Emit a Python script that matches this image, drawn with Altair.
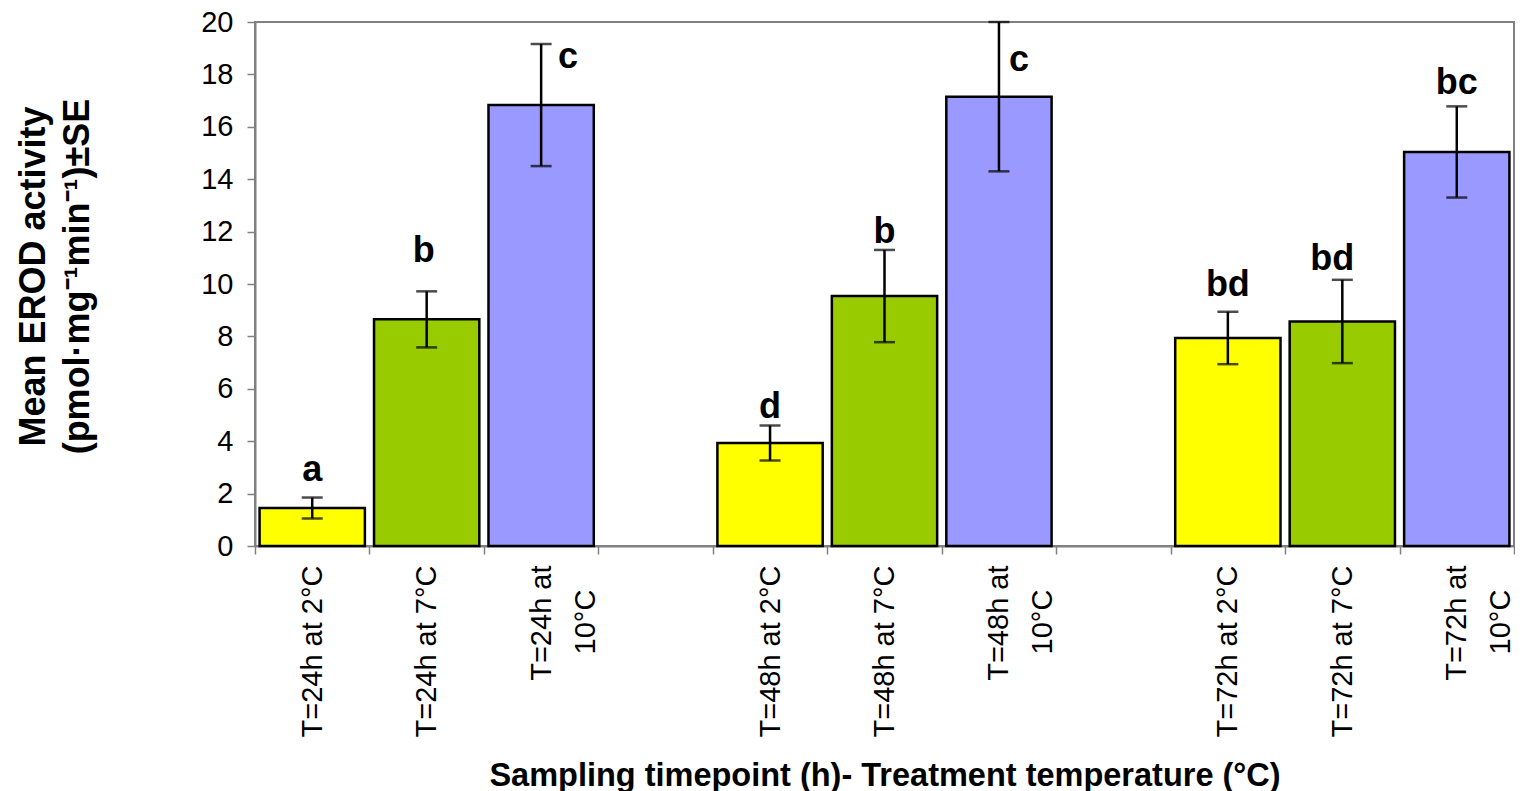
import altair as alt
import pandas as pd

# ---- data ----
categories = [
    "T=24h at 2°C", "T=24h at 7°C", "T=24h at|10°C", " ",
    "T=48h at 2°C", "T=48h at 7°C", "T=48h at|10°C", "  ",
    "T=72h at 2°C", "T=72h at 7°C", "T=72h at|10°C",
]
bar_labels = [
    "T=24h at 2°C", "T=24h at 7°C", "T=24h at|10°C",
    "T=48h at 2°C", "T=48h at 7°C", "T=48h at|10°C",
    "T=72h at 2°C", "T=72h at 7°C", "T=72h at|10°C",
]
temperatures = ["2°C", "7°C", "10°C"] * 3
means = [1.45, 8.65, 16.83, 3.93, 9.54, 17.15, 7.94, 8.57, 15.04]
se = [0.40, 1.07, 2.33, 0.67, 1.76, 2.85, 1.00, 1.59, 1.74]
letters = ["a", "b", "c", "d", "b", "c", "bd", "bd", "bc"]
# letter baselines (data units) and horizontal nudges
letter_y = [2.50, 10.83, 18.24, 4.89, 11.56, 18.12, 9.55, 10.52, 17.26]
letter_shift = [0, -3, 27, 0, 0, 20, 0, -10, 0]

temp_domain = ["2°C", "7°C", "10°C"]
temp_colors = ["#FFFF00", "#99CC00", "#9999FF"]

df = pd.DataFrame({
    "cat": bar_labels,
    "temp": temperatures,
    "avg": means,
    "se": se,
    "letter": letters,
    "ly": letter_y,
    "nudge": letter_shift,
})
df["lo"] = df["avg"] - df["se"]
df["hi"] = df["avg"] + df["se"]

FONT = "Arial"

# second label line centred under the first (Excel style): pad with no-break spaces,
# closed by a zero-width space so that the padding is not trimmed
label_expr = (
    "isValid(datum.value) ? "
    "split(replace(datum.value, '10°C', '10°C\u00a0\u00a0\u00a0\u200b'), '|') : ''"
)

x_enc = alt.X(
    "cat:N",
    sort=categories,
    scale=alt.Scale(domain=categories, paddingInner=0, paddingOuter=0),
    axis=alt.Axis(
        title="Sampling timepoint (h)- Treatment temperature (°C)",
        titleFont=FONT, titleFontSize=32.5, titleFontWeight="bold", titleColor="black",
        titleBaseline="alphabetic", titleY=239,
        labelExpr=label_expr,
        labelAngle=270, labelAlign="right", labelBaseline="middle",
        labelFont=FONT, labelFontSize=29, labelColor="black", labelLineHeight=44,
        labelPadding=11, labelOverlap=False, labelLimit=400,
        tickBand="extent", tickSize=8, tickColor="#808080", tickWidth=1.5,
        domainColor="#808080", domainWidth=2, grid=False,
    ),
)

y_scale = alt.Scale(domain=[0, 20], nice=False, zero=True)
y_axis = alt.Axis(
    title=["Mean EROD activity", "(pmol·mg⁻¹min⁻¹)±SE"],
    titleFont=FONT, titleFontSize=36, titleFontWeight="bold", titleColor="black",
    titleAngle=270, titleAlign="center", titleBaseline="alphabetic",
    titleLineHeight=44, titleX=-211, titleY=254,
    values=list(range(0, 21, 2)),
    labelFont=FONT, labelFontSize=29, labelColor="black", labelPadding=14,
    tickSize=8, tickColor="#808080", tickWidth=1.5,
    domainColor="#808080", domainWidth=2, grid=False,
)

base = alt.Chart(df)

bars = base.mark_bar(
    width=alt.RelativeBandSize(0.92), stroke="black", strokeWidth=2.5
).encode(
    x=x_enc,
    y=alt.Y("avg:Q", scale=y_scale, axis=y_axis),
    color=alt.Color("temp:N", scale=alt.Scale(domain=temp_domain, range=temp_colors), legend=None),
)

err = base.mark_rule(color="black", strokeWidth=2.5).encode(
    x=alt.X("cat:N", sort=categories),
    y=alt.Y("lo:Q"),
    y2="hi:Q",
)
cap_lo = base.mark_tick(color="black", size=21, thickness=2.5).encode(
    x=alt.X("cat:N", sort=categories), y=alt.Y("lo:Q")
)
cap_hi = base.mark_tick(color="black", size=21, thickness=2.5).encode(
    x=alt.X("cat:N", sort=categories), y=alt.Y("hi:Q")
)

letter_layers = []
for s in sorted(set(letter_shift)):
    letter_layers.append(
        base.transform_filter(alt.datum.nudge == s)
        .mark_text(font=FONT, fontSize=36, fontWeight="bold", color="black",
                   align="center", baseline="alphabetic", dx=s)
        .encode(x=alt.X("cat:N", sort=categories), y=alt.Y("ly:Q"), text="letter:N")
    )

chart = alt.layer(bars, err, cap_lo, cap_hi, *letter_layers).properties(
    width=1259,
    height=524,
    autosize=alt.AutoSizeParams(type="none"),
    padding={"left": 247, "top": 14, "right": 1, "bottom": 245},
    background="white",
).configure_view(
    stroke="#808080", strokeWidth=2
)

chart.save("out.html", embed_options={"renderer": "svg", "actions": False})
